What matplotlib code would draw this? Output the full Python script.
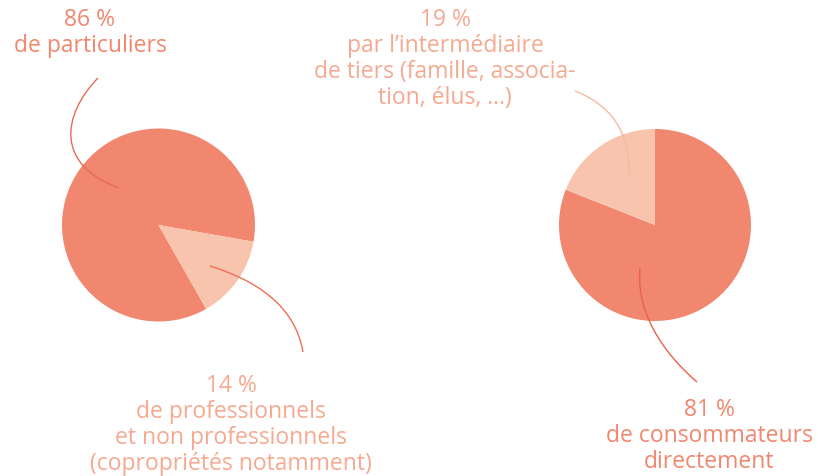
import matplotlib
matplotlib.use("Agg")
import matplotlib.pyplot as plt
from matplotlib.path import Path
from matplotlib.patches import PathPatch

# Data
left_values = [86, 14]
right_values = [81, 19]
left_labels = ["86 %\nde particuliers",
               "14 %\nde professionnels\net non professionnels\n(copropriétés notamment)"]
right_labels = ["81 %\nde consommateurs\ndirectement",
                "19 %\npar l’intermédiaire\nde tiers (famille, associa-\ntion, élus, ...)"]

DARK = "#F0876E"
LIGHT = "#F8C4AD"
TEXT_DARK = "#F0876E"
TEXT_LIGHT = "#F5A990"

W, H = 818, 476
fig = plt.figure(figsize=(W / 100, H / 100), dpi=100)
ax = fig.add_axes([0, 0, 1, 1])


def Y(y):
    # pixel (top-down) to data (bottom-up)
    return H - y


ax.pie(left_values, colors=[DARK, LIGHT], center=(158.5, Y(225)), radius=96.5,
       startangle=-10, counterclock=True, wedgeprops=dict(linewidth=0))
ax.pie(right_values, colors=[DARK, LIGHT], center=(655, Y(225)), radius=96,
       startangle=90 + right_values[1] * 3.6, counterclock=True,
       wedgeprops=dict(linewidth=0))

ax.set_xlim(0, W)
ax.set_ylim(0, H)
ax.set_aspect("equal")
ax.axis("off")


def leader(p0, c1, c2, p1, color):
    verts = [(p0[0], Y(p0[1])), (c1[0], Y(c1[1])), (c2[0], Y(c2[1])), (p1[0], Y(p1[1]))]
    path = Path(verts, [Path.MOVETO, Path.CURVE4, Path.CURVE4, Path.CURVE4])
    ax.add_patch(PathPatch(path, fill=False, edgecolor=color, lw=1.0))


leader((98, 78), (62, 115), (55, 165), (119, 188), "#EC6A55")
leader((210, 266), (255, 280), (295, 305), (303, 352), "#EE6F58")
leader((575, 91), (610, 105), (630, 130), (629, 175), "#F6B9A2")
leader((640, 268), (636, 310), (660, 350), (697, 382), "#E9624C")


def label(x, first_baseline, text, color):
    for i, line in enumerate(text.split("\n")):
        ax.text(x, Y(first_baseline + 26 * i), line, color=color,
                family=["Open Sans", "DejaVu Sans"], fontsize=16.5,
                fontweight="medium", ha="center", va="baseline")


label(90, 26, left_labels[0], TEXT_DARK)
label(231, 392, left_labels[1], TEXT_LIGHT)
label(709, 416, right_labels[0], TEXT_DARK)
label(445, 26, right_labels[1], TEXT_LIGHT)

fig.savefig("out.png", dpi=100)
